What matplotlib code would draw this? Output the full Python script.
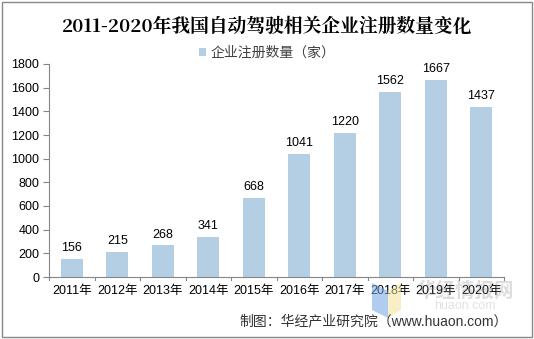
import matplotlib
matplotlib.use("Agg")
import matplotlib.pyplot as plt
from matplotlib.patches import Rectangle, Polygon

plt.rcParams['font.family'] = ['Liberation Sans', 'Noto Sans CJK SC', 'DejaVu Sans']

years = ['2011年', '2012年', '2013年', '2014年', '2015年',
         '2016年', '2017年', '2018年', '2019年', '2020年']
counts = [156, 215, 268, 341, 668, 1041, 1220, 1562, 1667, 1437]
yticks = [0, 200, 400, 600, 800, 1000, 1200, 1400, 1600, 1800]

bar_color = '#B4CFE4'
axis_color = '#868686'

fig = plt.figure(figsize=(5.34, 3.39), dpi=100)
ax = fig.add_axes([49 / 534, 1 - 277 / 339, 455 / 534, 213 / 339])

x = range(len(years))
bars = ax.bar(x, counts, width=0.48, color=bar_color, label='企业注册数量（家）')
for xi, v in zip(x, counts):
    ax.text(xi, v + 40, str(v), ha='center', va='bottom', fontsize=9)

ax.set_xlim(-0.5, len(years) - 0.5)
ax.set_ylim(0, 1800)
ax.set_yticks(yticks)
ax.set_yticklabels([str(t) for t in yticks], fontsize=9)
ax.set_xticks(list(x))
ax.set_xticklabels(years, fontsize=9)
ax.tick_params(axis='x', length=0, pad=6)
ax.tick_params(axis='y', length=4, color=axis_color, pad=3)
# category separators on the x axis
for b in [i + 0.5 for i in range(-1, len(years))]:
    ax.plot([b, b], [0, -25], color=axis_color, lw=0.8, clip_on=False)

for s in ['top', 'right']:
    ax.spines[s].set_visible(False)
for s in ['left', 'bottom']:
    ax.spines[s].set_color(axis_color)
    ax.spines[s].set_linewidth(0.8)

fig.text(0.5, 1 - 27 / 339, '2011-2020年我国自动驾驶相关企业注册数量变化',
         ha='center', va='center', fontsize=13.5, fontweight='bold',
         family=['Noto Serif CJK SC', 'Noto Sans CJK SC'])

leg = fig.legend(handles=[bars], loc='center', bbox_to_anchor=(0.5, 1 - 53 / 339),
                 frameon=False, fontsize=10, handlelength=0.5, handleheight=0.5,
                 handletextpad=0.3)
for t in leg.get_texts():
    t.set_color('#404040')

fig.text(0.5 + 0.45, 1 - 321 / 339, '制图：华经产业研究院（www.huaon.com）',
         ha='right', va='center', fontsize=10, color='#333333')

# faint watermark: logo shapes plus site name
W, H = 534, 339
def fpoly(pts, color):
    fig.patches.append(Polygon([(px / W, 1 - py / H) for px, py in pts], closed=True,
                               transform=fig.transFigure, facecolor=color,
                               edgecolor='none', alpha=0.55))
fpoly([(372, 283), (388, 291), (388, 318), (372, 310)], '#6FA3E0')
fpoly([(388, 291), (401, 283), (401, 310), (388, 318)], '#F3E39A')
fig.text(465 / W, 1 - 291 / H, '华经情报网', ha='center', va='center',
         fontsize=14, fontweight='bold', color='#909090', alpha=0.3)
fig.text(465 / W, 1 - 306 / H, 'huaon.com', ha='center', va='center',
         fontsize=9, color='#A0A0A0', alpha=0.3)

fig.patches.append(Rectangle((0.004, 0.006), 0.992, 0.988, transform=fig.transFigure,
                             fill=False, edgecolor='#888888', lw=1))

fig.savefig('out.png', dpi=100)
